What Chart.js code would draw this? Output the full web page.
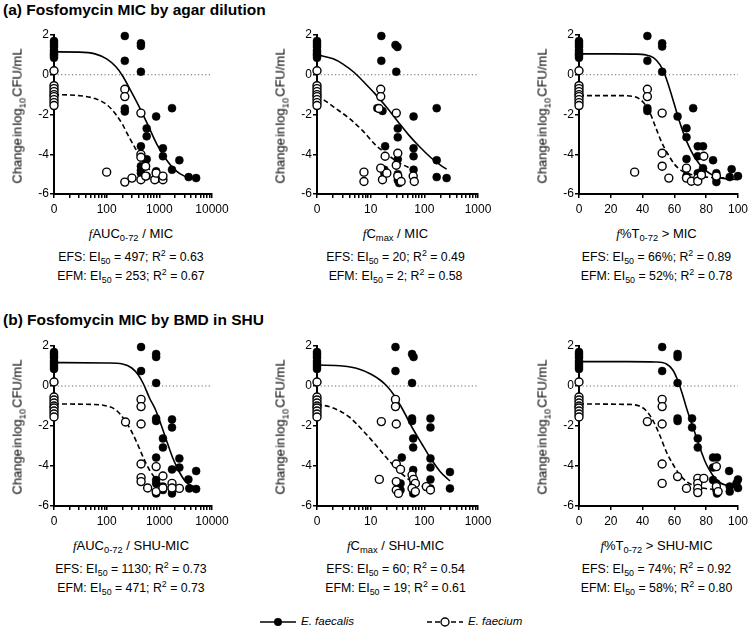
<!DOCTYPE html>
<html lang="en">
<head>
  <meta charset="UTF-8">
  <title>Fosfomycin PK/PD indices</title>
  <style>
    body {
      margin: 0;
      background: #fff;
      overflow: hidden;
      font-family: "Liberation Sans", Arial, Helvetica, sans-serif;
      color: #000;
    }
    .fig { position: relative; width: 750px; height: 639px; }
    .fig canvas { position: absolute; }
    .txt { position: absolute; white-space: nowrap; transform: translate(-50%, -50%); line-height: 1; }
    .title { position: absolute; left: 3px; font-weight: bold; font-size: 15.5px; white-space: nowrap; line-height: 1; }
    .ytitle { font-size: 13px; word-spacing: -2.5px; transform: translate(-50%, -50%) rotate(-90deg); }
    .xtitle { font-size: 13px; }
    .stat { font-size: 12.3px; }
    .leg { position: absolute; font-size: 11.5px; font-style: italic; white-space: nowrap; line-height: 1; }
    sub, sup { font-size: 72%; line-height: 0; }
    i.f { font-family: "Liberation Serif", "Times New Roman", serif; }
  </style>
</head>
<body>
  <div class="fig" id="fig">
    <div class="title" style="top:2px">(a) Fosfomycin MIC by agar dilution</div>
    <div class="title" style="top:312px">(b) Fosfomycin MIC by BMD in SHU</div>

    <svg width="750" height="20" style="position:absolute;left:0;top:612px">
      <line x1="260" y1="10" x2="296" y2="10" stroke="#000" stroke-width="1.6"/>
      <circle cx="278" cy="10" r="4" fill="#000"/>
      <line x1="427" y1="10" x2="463" y2="10" stroke="#000" stroke-width="1.6" stroke-dasharray="5,3"/>
      <circle cx="445" cy="10" r="4" fill="#fff" stroke="#000" stroke-width="1.4"/>
    </svg>
    <div class="leg" style="left:301px;top:616px">E. faecalis</div>
    <div class="leg" style="left:468px;top:616px">E. faecium</div>
  </div>

  <script src="https://cdn.jsdelivr.net/npm/chart.js"></script>
  <script>
    // y values of the untreated controls, plotted at x = 0
    const zeroEFS = [1.7, 1.6, 1.5, 1.4, 1.25, 1.15, 1.05, 0.95, 0.85];
    const zeroEFM = [0.2, -0.55, -0.7, -0.85, -1.0, -1.1, -1.25, -1.4, -1.55];

    // (a) agar dilution MIC - fAUC/MIC
    const aucAgarEFS = [[221,1.95],[221,0.7],[447,1.58],[447,1.45],[447,0.15],[221,-1.7],[221,-1.85],[870,-2.1],[1740,-1.68],[575,-2.7],[575,-3.1],[447,-3.6],[1170,-3.7],[1170,-4.1],[575,-4.25],[2400,-4.3],[1740,-4.78],[447,-4.6],[447,-4.8],[447,-4.95],[870,-4.86],[870,-5.0],[870,-5.25],[575,-5.1],[3600,-5.15],[5000,-5.2]];
    const aucAgarEFM = [[221,-0.73],[221,-1.1],[447,-1.93],[447,-4.0],[447,-4.15],[100,-4.9],[221,-5.4],[302,-5.2],[447,-5.28],[550,-5.1],[550,-4.6],[820,-5.28],[870,-4.95],[1170,-5.28],[1170,-5.1]];
    const aucAgarFitEFS = [[0,1.15],[30,1.14],[60,1.05],[100,0.8],[150,0.4],[200,-0.05],[300,-0.9],[450,-1.8],[600,-2.5],[900,-3.5],[1300,-4.2],[2000,-4.8],[3000,-5.1],[5000,-5.25]];
    const aucAgarFitEFM = [[0,-1.0],[30,-1.05],[60,-1.2],[100,-1.5],[150,-2.0],[200,-2.5],[250,-3.0],[350,-3.7],[500,-4.4],[700,-4.85],[1000,-5.1],[1200,-5.2]];

    // (a) agar dilution MIC - fCmax/MIC
    const cmaxAgarEFS = [[15.8,1.95],[15.8,0.7],[29,1.5],[31.6,1.4],[30,0.15],[13.3,-1.68],[16.6,-1.82],[63,-2.1],[170,-1.68],[32,-2.7],[32,-3.15],[18.6,-3.6],[63,-3.7],[63,-4.1],[32,-4.25],[170,-4.3],[63,-4.78],[18,-4.78],[18,-4.95],[32,-5.0],[32,-5.3],[34,-5.45],[170,-5.15],[260,-5.2]];
    const cmaxAgarEFM = [[15.4,-0.73],[15.4,-1.1],[14.3,-1.7],[30,-1.93],[18.6,-4.1],[32,-3.95],[30,-4.55],[7.5,-4.9],[7.5,-5.37],[15.4,-4.7],[16.6,-5.28],[20,-4.95],[32,-5.1],[37,-5.37],[62,-5.1],[65,-5.37]];
    const cmaxAgarFitEFS = [[0,1.0],[2,0.8],[3,0.55],[5,0.1],[8,-0.45],[12,-0.95],[20,-1.65],[32,-2.35],[50,-3.0],[80,-3.6],[130,-4.15],[200,-4.55],[260,-4.75]];
    const cmaxAgarFitEFM = [[0,-1.05],[1.5,-1.35],[2,-1.6],[4,-2.2],[7,-2.8],[12,-3.5],[20,-4.0],[35,-4.45],[60,-4.75]];

    // (a) agar dilution MIC - f%T>MIC
    const tmicAgarEFS = [[43,1.95],[43,0.7],[52.3,1.58],[52.3,1.42],[52.3,0.15],[43,-1.68],[43,-1.82],[62,-2.1],[71.8,-1.68],[67.6,-2.69],[67.6,-3.14],[74.7,-3.6],[78,-3.6],[74.7,-4.1],[67.6,-4.24],[84.3,-4.3],[78,-4.7],[77,-4.9],[86.4,-4.95],[86.4,-5.2],[86.4,-5.4],[96,-4.75],[94.8,-5.15],[100,-5.1],[74.7,-4.95],[67.6,-5.1]];
    const tmicAgarEFM = [[43,-0.73],[43,-1.1],[52.3,-1.93],[52.3,-3.95],[52.3,-4.6],[35,-4.9],[56.5,-5.2],[67.6,-4.7],[67.6,-5.2],[70.7,-5.36],[74.7,-5.2],[74.7,-5.36],[78.5,-4.1],[77,-5.05],[86.4,-5.1]];
    const tmicAgarFitEFS = [[0,1.05],[20,1.05],[35,1.04],[42,1.0],[47,0.85],[51,0.5],[54,0.0],[57,-0.7],[60,-1.5],[63,-2.3],[66,-3.0],[70,-3.75],[74,-4.3],[78,-4.7],[84,-5.05],[90,-5.2],[100,-5.28]];
    const tmicAgarFitEFM = [[0,-1.05],[25,-1.05],[35,-1.1],[40,-1.35],[44,-1.8],[48,-2.6],[52,-3.4],[56,-4.0],[60,-4.5],[65,-4.85],[72,-5.05],[80,-5.15],[100,-5.2]];

    // (b) BMD in SHU MIC - fAUC/SHU-MIC
    const aucShuEFS = [[450,1.95],[450,0.75],[870,1.6],[870,1.45],[870,0.15],[870,-1.62],[870,-1.75],[1740,-1.67],[1740,-2.07],[1170,-2.62],[1170,-3.07],[870,-3.58],[2400,-3.62],[2400,-4.08],[1740,-4.17],[5000,-4.25],[3560,-4.67],[870,-4.7],[870,-4.87],[1170,-5.03],[1170,-5.2],[870,-5.37],[1740,-5.2],[1740,-5.37],[3700,-5.12],[5000,-5.15]];
    const aucShuEFM = [[450,-0.67],[450,-1.03],[450,-1.9],[228,-1.8],[450,-3.9],[450,-4.58],[450,-4.78],[600,-5.1],[870,-4.03],[870,-5.28],[1170,-4.5],[1740,-4.87],[2400,-5.12],[1170,-5.1],[1740,-5.1]];
    const aucShuFitEFS = [[0,1.17],[100,1.15],[200,1.1],[300,0.9],[400,0.55],[500,0.1],[650,-0.6],[850,-1.2],[1100,-2.0],[1400,-2.8],[1800,-3.6],[2400,-4.3],[3200,-4.8],[4500,-5.05]];
    const aucShuFitEFM = [[0,-0.9],[50,-0.92],[100,-1.0],[150,-1.2],[220,-1.7],[300,-2.3],[400,-3.0],[500,-3.6],[650,-4.2],[900,-4.7],[1300,-5.0],[2000,-5.15],[3000,-5.2]];

    // (b) BMD in SHU MIC - fCmax/SHU-MIC
    const cmaxShuEFS = [[29,1.95],[29,0.75],[59,1.6],[63,1.45],[59,0.15],[59,-1.62],[59,-1.75],[130,-1.62],[130,-2.07],[62,-2.62],[62,-3.07],[38,-3.58],[130,-3.62],[130,-4.07],[62,-4.2],[300,-4.3],[130,-4.67],[62,-4.7],[62,-4.95],[62,-5.2],[36,-4.87],[36,-5.2],[62,-5.37],[130,-5.12],[300,-5.12]];
    const cmaxShuEFM = [[29,-0.67],[29,-1.03],[15.8,-1.78],[30,-1.9],[30,-3.9],[36,-4.17],[14.5,-4.67],[30,-4.78],[30,-5.2],[33,-5.37],[59,-4.45],[63,-4.67],[68,-4.87],[59,-5.12],[68,-5.28],[109,-5.03],[130,-5.2]];
    const cmaxShuFitEFS = [[0,1.05],[3,1.0],[6,0.85],[10,0.6],[15,0.3],[20,0.0],[28,-0.5],[40,-1.2],[60,-2.1],[90,-2.9],[130,-3.6],[200,-4.3],[300,-4.75]];
    const cmaxShuFitEFM = [[0,-0.9],[2,-1.1],[4,-1.55],[7,-2.2],[12,-2.9],[20,-3.6],[32,-4.2],[50,-4.65],[80,-4.95],[130,-5.1]];

    // (b) BMD in SHU MIC - f%T>SHU-MIC
    const tmicShuEFS = [[52.3,1.95],[52.3,0.75],[62,1.6],[62,1.45],[62,0.15],[62,-1.62],[62,-1.75],[71.1,-1.62],[71.1,-2.07],[74.7,-2.62],[74.7,-3.07],[84.3,-3.58],[86.8,-3.58],[84.3,-4.08],[94.4,-4.25],[100,-4.67],[84.3,-4.7],[86.4,-4.87],[86.4,-5.2],[94.8,-5.03],[94.8,-5.28],[99,-4.87],[86.8,-5.37],[100,-5.1]];
    const tmicShuEFM = [[52.3,-0.67],[52.3,-1.03],[43,-1.78],[52.3,-1.9],[52.3,-3.9],[52.3,-4.87],[62,-4.53],[67.6,-5.12],[74.7,-4.62],[74.7,-4.87],[74.7,-5.12],[74.7,-5.33],[78.5,-4.62],[86.4,-4.03],[86.4,-5.03],[87.5,-5.28]];
    const tmicShuFitEFS = [[0,1.22],[30,1.22],[48,1.2],[55,1.1],[59,0.8],[62,0.3],[65,-0.4],[68,-1.2],[71,-1.9],[74,-2.6],[77,-3.3],[80,-3.9],[84,-4.45],[88,-4.8],[94,-5.0],[100,-5.1]];
    const tmicShuFitEFM = [[0,-0.9],[30,-0.92],[38,-1.0],[43,-1.3],[47,-1.8],[51,-2.5],[55,-3.3],[59,-3.9],[63,-4.4],[68,-4.8],[75,-5.05],[82,-5.15],[90,-5.2]];

    // axis tick labels
    const yTicks = [-6, -4, -2, 0, 2];
    const tTicks = [0, 20, 40, 60, 80, 100];

    // Panel texts
    const xTitles = [
      '<i class="f">f</i>AUC<sub>0-72</sub> / MIC',
      '<i class="f">f</i>C<sub>max</sub> / MIC',
      '<i class="f">f</i>%T<sub>0-72</sub> &gt; MIC',
      '<i class="f">f</i>AUC<sub>0-72</sub> / SHU-MIC',
      '<i class="f">f</i>C<sub>max</sub> / SHU-MIC',
      '<i class="f">f</i>%T<sub>0-72</sub> &gt; SHU-MIC'
    ];
    const efsStats = [['497', '0.63'], ['20', '0.49'], ['66%', '0.89'], ['1130', '0.73'], ['60', '0.54'], ['74%', '0.92']];
    const efmStats = [['253', '0.67'], ['2', '0.58'], ['52%', '0.78'], ['471', '0.73'], ['19', '0.61'], ['58%', '0.80']];

    const panels = [
      { left: 54, right: 212, top: 35, bottom: 194, log: true, min: 10, max: 10000, efs: aucAgarEFS, efm: aucAgarEFM, fitS: aucAgarFitEFS, fitM: aucAgarFitEFM },
      { left: 317, right: 478, top: 35, bottom: 194, log: true, min: 1, max: 1000, efs: cmaxAgarEFS, efm: cmaxAgarEFM, fitS: cmaxAgarFitEFS, fitM: cmaxAgarFitEFM },
      { left: 579, right: 738, top: 35, bottom: 194, log: false, min: 0, max: 100, efs: tmicAgarEFS, efm: tmicAgarEFM, fitS: tmicAgarFitEFS, fitM: tmicAgarFitEFM },
      { left: 54, right: 212, top: 346, bottom: 506, log: true, min: 10, max: 10000, efs: aucShuEFS, efm: aucShuEFM, fitS: aucShuFitEFS, fitM: aucShuFitEFM },
      { left: 317, right: 478, top: 346, bottom: 506, log: true, min: 1, max: 1000, efs: cmaxShuEFS, efm: cmaxShuEFM, fitS: cmaxShuFitEFS, fitM: cmaxShuFitEFM },
      { left: 579, right: 738, top: 346, bottom: 506, log: false, min: 0, max: 100, efs: tmicShuEFS, efm: tmicShuEFM, fitS: tmicShuFitEFS, fitM: tmicShuFitEFM }
    ];

    const fig = document.getElementById("fig");
    const FONT = '"Liberation Sans", Arial, Helvetica, sans-serif';
    const Y_W = 45, X_H = 24, PAD_T = 10;

    function addText(cls, html, x, y) {
      const d = document.createElement("div");
      d.className = "txt " + cls;
      d.innerHTML = html;
      d.style.left = x + "px";
      d.style.top = y + "px";
      fig.appendChild(d);
    }

    // log ticks: every 1..9 x 10^n, label only decades, the first one is "0"
    function logTicks(min, max) {
      const out = [];
      for (let d = min; d < max; d *= 10) {
        for (let k = 1; k < 10; k++) out.push(Math.round(k * d * 1000) / 1000);
      }
      out.push(max);
      return out;
    }

    panels.forEach((p, i) => {
      const padR = p.log ? 22 : 12;
      const cw = p.right - p.left + Y_W + padR;
      const ch = p.bottom - p.top + PAD_T + X_H;
      const canvas = document.createElement("canvas");
      canvas.width = cw;
      canvas.height = ch;
      canvas.style.left = (p.left - Y_W) + "px";
      canvas.style.top = (p.top - PAD_T) + "px";
      fig.appendChild(canvas);

      // x = 0 sits at the start of the axis
      const toX = (x) => (p.log && x === 0 ? p.min : x);
      const pts = (arr) => arr.map(([x, y]) => ({ x: toX(x), y: y }));
      const zeros = (arr) => arr.map((y) => ({ x: p.min, y: y }));

      const xTickValues = p.log ? logTicks(p.min, p.max) : tTicks;

      new Chart(canvas.getContext("2d"), {
        type: "scatter",
        data: {
          datasets: [
            {
              data: [{ x: p.min, y: 0 }, { x: p.max, y: 0 }],
              showLine: true, pointRadius: 0, borderColor: "#666", borderWidth: 1.2,
              borderDash: [1.2, 2.4], order: 5
            },
            {
              data: pts(p.fitS), showLine: true, pointRadius: 0, borderColor: "#000",
              borderWidth: 1.6, cubicInterpolationMode: "monotone", order: 4
            },
            {
              data: pts(p.fitM), showLine: true, pointRadius: 0, borderColor: "#000",
              borderWidth: 1.6, borderDash: [5, 3], cubicInterpolationMode: "monotone", order: 3
            },
            {
              data: zeros(zeroEFS).concat(pts(p.efs)), pointRadius: 4, backgroundColor: "#000",
              borderColor: "#000", borderWidth: 0.5, clip: false, order: 2
            },
            {
              data: zeros(zeroEFM).concat(pts(p.efm)), pointRadius: 4, backgroundColor: "#fff",
              borderColor: "#000", borderWidth: 1.4, clip: false, order: 1
            }
          ]
        },
        options: {
          responsive: false,
          animation: false,
          layout: { padding: { top: PAD_T, right: padR, left: 0, bottom: 0 } },
          plugins: { legend: { display: false }, tooltip: { enabled: false } },
          scales: {
            x: {
              type: p.log ? "logarithmic" : "linear",
              min: p.min,
              max: p.max,
              afterBuildTicks: (s) => { s.ticks = xTickValues.map((v) => ({ value: v })); },
              afterFit: (s) => { s.height = X_H; s.paddingLeft = 0; s.paddingRight = 0; },
              border: { display: true, color: "#000", width: 2 },
              grid: { drawOnChartArea: false, drawTicks: true, tickLength: 4, color: "#000", lineWidth: 1.5 },
              ticks: {
                autoSkip: false, maxRotation: 0, padding: 4, color: "#000",
                font: { family: FONT, size: 12 },
                callback: (v) => {
                  if (!p.log) return String(v);
                  if (v === p.min) return "0";
                  const l = Math.log10(v);
                  return Math.abs(l - Math.round(l)) < 1e-9 ? String(v) : "";
                }
              }
            },
            y: {
              type: "linear",
              min: -6,
              max: 2,
              afterBuildTicks: (s) => { s.ticks = yTicks.map((v) => ({ value: v })); },
              afterFit: (s) => { s.width = Y_W; s.paddingTop = 0; s.paddingBottom = 0; },
              border: { display: true, color: "#000", width: 2 },
              grid: { drawOnChartArea: false, drawTicks: true, tickLength: 4, color: "#000", lineWidth: 1.5 },
              ticks: { padding: 1, color: "#000", font: { family: FONT, size: 12 } }
            }
          }
        }
      });

      const cx = (p.left + p.right) / 2 - 2;
      addText("ytitle", "Change in log<sub>10</sub> CFU/mL", p.left - 37, (p.top + p.bottom) / 2 + 1);
      addText("xtitle", xTitles[i], cx, p.bottom + 39);
      addText("stat", "EFS: EI<sub>50</sub> = " + efsStats[i][0] + "; R<sup>2</sup> = " + efsStats[i][1], cx, p.bottom + 63);
      addText("stat", "EFM: EI<sub>50</sub> = " + efmStats[i][0] + "; R<sup>2</sup> = " + efmStats[i][1], cx, p.bottom + 82);
    });
  </script>
</body>
</html>
